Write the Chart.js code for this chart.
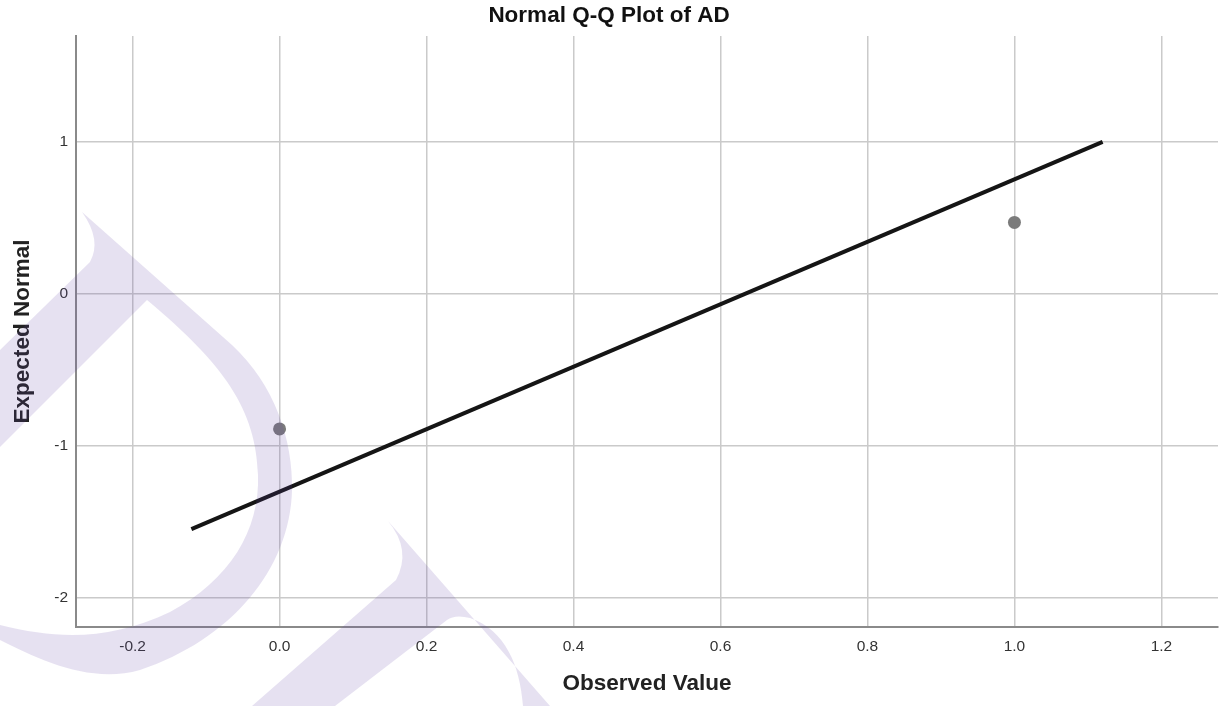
<!DOCTYPE html>
<html>
<head>
<meta charset="utf-8">
<title>Normal Q-Q Plot of AD</title>
<script src="https://cdn.jsdelivr.net/npm/chart.js@4.4.1/dist/chart.umd.min.js"></script>
<style>
  html, body { margin: 0; padding: 0; background: #ffffff; }
  #wrap { width: 1228px; height: 706px; position: relative; }
</style>
</head>
<body>
<div id="wrap"><canvas id="qq" width="1228" height="706"></canvas></div>
<script>
// Observed values and their expected normal scores
const observedValues = [0, 1];
const expectedNormal = [-0.89, 0.47];

// Reference line (expected normal for observed value under fitted normal)
const refLineX = [-0.12, 1.12];
const refLineY = [-1.55, 1.0];

// Axis ticks
const xTickValues = [-0.2, 0.0, 0.2, 0.4, 0.6, 0.8, 1.0, 1.2];
const xTickLabels = ['-0.2', '0.0', '0.2', '0.4', '0.6', '0.8', '1.0', '1.2'];
const yTickValues = [-2, -1, 0, 1];
const yTickLabels = ['-2', '-1', '0', '1'];

// Axis ranges
const xRange = [-0.277, 1.277];
const yRange = [-2.195, 1.698];

const FONT = "'Liberation Sans', Arial, Helvetica, sans-serif";

// Light lavender brand mark painted over the plot
const brandMark = {
  id: 'brandMark',
  afterDraw(chart) {
    const ctx = chart.ctx;
    ctx.save();
    ctx.fillStyle = 'rgba(100, 70, 170, 0.16)';

    // upper stroke: tip, left arm and large bowl
    ctx.beginPath();
    ctx.moveTo(82, 212);
    ctx.lineTo(232, 345);
    ctx.bezierCurveTo(275, 385, 293, 440, 292, 490);
    ctx.bezierCurveTo(290, 570, 230, 640, 140, 670);
    ctx.bezierCurveTo(90, 684, 40, 660, 0, 640);
    ctx.lineTo(0, 625);
    ctx.bezierCurveTo(60, 640, 110, 640, 170, 612);
    ctx.bezierCurveTo(230, 580, 260, 530, 258, 475);
    ctx.bezierCurveTo(256, 410, 225, 365, 147, 300);
    ctx.lineTo(0, 447);
    ctx.lineTo(0, 350);
    ctx.lineTo(90, 262);
    ctx.quadraticCurveTo(102, 240, 82, 212);
    ctx.closePath();
    ctx.fill();

    // lower stroke: inverted V
    ctx.beginPath();
    ctx.moveTo(388, 521);
    ctx.lineTo(550, 706);
    ctx.lineTo(523, 706);
    ctx.bezierCurveTo(520, 665, 505, 630, 470, 618);
    ctx.quadraticCurveTo(455, 614, 447, 620);
    ctx.lineTo(335, 706);
    ctx.lineTo(252, 706);
    ctx.lineTo(396, 580);
    ctx.quadraticCurveTo(412, 550, 388, 521);
    ctx.closePath();
    ctx.fill();
    ctx.restore();
  }
};

const gridColor = 'rgba(202, 202, 202, 1)';
const axisColor = '#8a8a8a';

new Chart(document.getElementById('qq'), {
  type: 'scatter',
  data: {
    datasets: [
      {
        type: 'line',
        label: 'Reference line',
        data: refLineX.map((x, i) => ({ x: x, y: refLineY[i] })),
        borderColor: '#151515',
        borderWidth: 4,
        pointRadius: 0,
        fill: false,
        tension: 0,
        order: 2
      },
      {
        label: 'AD',
        data: observedValues.map((x, i) => ({ x: x, y: expectedNormal[i] })),
        backgroundColor: '#7b7b7b',
        borderWidth: 0,
        pointRadius: 6.5,
        pointHoverRadius: 6.5,
        order: 1
      }
    ]
  },
  options: {
    responsive: false,
    animation: false,
    events: [],
    layout: { padding: { left: 0, right: 10, top: 0, bottom: 0 } },
    plugins: {
      legend: { display: false },
      tooltip: { enabled: false },
      title: {
        display: true,
        text: 'Normal Q-Q Plot of AD',
        color: '#111111',
        font: { family: FONT, size: 22.5, weight: 'bold' },
        padding: { top: 2, bottom: 7 }
      }
    },
    scales: {
      x: {
        type: 'linear',
        min: xRange[0],
        max: xRange[1],
        afterBuildTicks(scale) { scale.ticks = xTickValues.map(v => ({ value: v })); },
        afterFit(scale) { scale.height = 79; },
        ticks: {
          padding: 10,
          color: '#333333',
          font: { family: FONT, size: 15.5 },
          callback(value) {
            const i = xTickValues.findIndex(v => Math.abs(v - value) < 1e-9);
            return i >= 0 ? xTickLabels[i] : '';
          }
        },
        grid: { color: gridColor, lineWidth: 1.5, drawTicks: false },
        border: { color: axisColor, width: 2 },
        title: {
          display: true,
          text: 'Observed Value',
          color: '#222222',
          font: { family: FONT, size: 22.5, weight: 'bold' },
          padding: { top: 0, bottom: 9 }
        }
      },
      y: {
        type: 'linear',
        min: yRange[0],
        max: yRange[1],
        afterBuildTicks(scale) { scale.ticks = yTickValues.map(v => ({ value: v })); },
        afterFit(scale) { scale.width = 76; },
        ticks: {
          padding: 8,
          color: '#333333',
          font: { family: FONT, size: 15.5 },
          callback(value) {
            const i = yTickValues.findIndex(v => Math.abs(v - value) < 1e-9);
            return i >= 0 ? yTickLabels[i] : '';
          }
        },
        grid: { color: gridColor, lineWidth: 1.5, drawTicks: false },
        border: { color: axisColor, width: 2 },
        title: {
          display: true,
          text: 'Expected Normal',
          color: '#222222',
          font: { family: FONT, size: 22.5, weight: 'bold' },
          padding: { top: 9, bottom: 0 }
        }
      }
    }
  },
  plugins: [brandMark]
});
</script>
</body>
</html>
